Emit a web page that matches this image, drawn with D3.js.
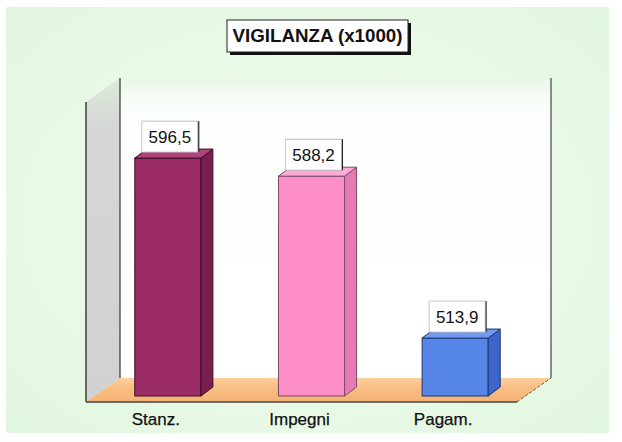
<!DOCTYPE html>
<html lang="it">
<head>
<meta charset="utf-8">
<title>Vigilanza</title>
<script src="https://d3js.org/d3.v7.min.js"></script>
<style>
  html, body { margin: 0; padding: 0; background: #fff; }
  svg { display: block; font-family: "Liberation Sans", Arial, sans-serif; }
</style>
</head>
<body>
<div id="chart"></div>
<script>
// data
const categories = ["Stanz.", "Impegni", "Pagam."];
const values = [596.5, 588.2, 513.9];
const valueLabels = ["596,5", "588,2", "513,9"];
const titleText = "VIGILANZA (x1000)";

const barColors = [
  { front: "#9c2c66", top: "#b2447d", side: "#7a1e4e", line: "#3d0c26" },
  { front: "#ff8fc9", top: "#ffaad6", side: "#e47cb3", line: "#7a4a62" },
  { front: "#5686e8", top: "#729bf0", side: "#3c66c9", line: "#1d3470" }
];

const W = 622, H = 442;
// 3d offsets
const depth = { dx: 34, dy: 24 };   // wall / floor depth
const barDepth = { dx: 12, dy: 9 };
const floorFront = 402, floorBack = floorFront - depth.dy;
const wallLeft = 86, wallRight = 517;
const wallTop = 78;
const barBase = 396;

const svg = d3.select("#chart").append("svg")
  .attr("width", W).attr("height", H);

const defs = svg.append("defs");
const bgGrad = defs.append("radialGradient").attr("id", "bg")
  .attr("cx", "50%").attr("cy", "50%").attr("r", "70%");
bgGrad.append("stop").attr("offset", "0%").attr("stop-color", "#f3fcf2");
bgGrad.append("stop").attr("offset", "100%").attr("stop-color", "#e2f7df");

const wallGrad = defs.append("linearGradient").attr("id", "wall")
  .attr("x1", 0).attr("y1", 0).attr("x2", 0).attr("y2", 1);
wallGrad.append("stop").attr("offset", "0%").attr("stop-color", "#e9f8e7");
wallGrad.append("stop").attr("offset", "10%").attr("stop-color", "#fcfefc");
wallGrad.append("stop").attr("offset", "100%").attr("stop-color", "#ffffff");

const sideGrad = defs.append("linearGradient").attr("id", "side")
  .attr("x1", 0).attr("y1", 0).attr("x2", 0).attr("y2", 1);
sideGrad.append("stop").attr("offset", "0%").attr("stop-color", "#dcecd9");
sideGrad.append("stop").attr("offset", "15%").attr("stop-color", "#d5d7d5");
sideGrad.append("stop").attr("offset", "100%").attr("stop-color", "#d1d1d1");

const floorGrad = defs.append("linearGradient").attr("id", "floor")
  .attr("x1", 0).attr("y1", 0).attr("x2", 0).attr("y2", 1);
floorGrad.append("stop").attr("offset", "0%").attr("stop-color", "#fbcf9e");
floorGrad.append("stop").attr("offset", "45%").attr("stop-color", "#f8bd82");
floorGrad.append("stop").attr("offset", "100%").attr("stop-color", "#f5b274");

// background
svg.append("rect").attr("x", 6).attr("y", 7).attr("width", 603).attr("height", 426)
  .attr("fill", "url(#bg)");

// scales
const x = d3.scaleBand().domain(categories)
  .range([96, 527]).paddingInner(0.54).paddingOuter(0.27);
const y = d3.scaleLinear().domain([487.3, 625]).range([barBase, 96]);

const poly = pts => "M" + pts.map(p => p.join(",")).join("L") + "Z";

// back wall
svg.append("rect")
  .attr("x", wallLeft + depth.dx).attr("y", wallTop)
  .attr("width", wallRight - wallLeft).attr("height", floorBack - wallTop)
  .attr("fill", "url(#wall)");
// left side wall
svg.append("path")
  .attr("d", poly([[wallLeft, wallTop + depth.dy], [wallLeft + depth.dx, wallTop],
    [wallLeft + depth.dx, floorBack], [wallLeft, floorFront]]))
  .attr("fill", "url(#side)");
// floor
svg.append("path")
  .attr("d", poly([[wallLeft, floorFront], [wallLeft + depth.dx, floorBack],
    [wallRight + depth.dx, floorBack], [wallRight, floorFront]]))
  .attr("fill", "url(#floor)");

// wall edges
svg.append("line").attr("x1", wallLeft + depth.dx).attr("x2", wallLeft + depth.dx)
  .attr("y1", wallTop).attr("y2", floorBack).attr("stroke", "#333").attr("stroke-width", 1.2);
svg.append("line").attr("x1", wallRight + depth.dx).attr("x2", wallRight + depth.dx)
  .attr("y1", wallTop).attr("y2", floorBack).attr("stroke", "#444").attr("stroke-width", 1.2);
svg.append("line").attr("x1", wallLeft).attr("x2", wallLeft)
  .attr("y1", wallTop + depth.dy).attr("y2", floorFront).attr("stroke", "#333").attr("stroke-width", 1.4);
svg.append("line").attr("x1", wallLeft).attr("x2", wallRight)
  .attr("y1", floorFront).attr("y2", floorFront).attr("stroke", "#444").attr("stroke-width", 1.4);
svg.append("line").attr("x1", wallRight).attr("x2", wallRight + depth.dx)
  .attr("y1", floorFront).attr("y2", floorBack).attr("stroke", "#555")
  .attr("stroke-width", 1).attr("stroke-dasharray", "3,2");

// bars
const bars = svg.selectAll("g.bar").data(values).join("g").attr("class", "bar");
bars.each(function(v, i) {
  const g = d3.select(this);
  const x0 = x(categories[i]), x1 = x0 + x.bandwidth();
  const yt = y(v), yb = y.range()[0];
  const c = barColors[i];
  g.append("rect").attr("x", x0).attr("y", yt).attr("width", x1 - x0).attr("height", yb - yt)
    .attr("fill", c.front).attr("stroke", c.line).attr("stroke-width", 1);
  g.append("path")
    .attr("d", poly([[x1, yt], [x1 + barDepth.dx, yt - barDepth.dy],
      [x1 + barDepth.dx, yb - barDepth.dy], [x1, yb]]))
    .attr("fill", c.side).attr("stroke", c.line).attr("stroke-width", 1).attr("stroke-linejoin", "round");
  g.append("path")
    .attr("d", poly([[x0, yt], [x0 + barDepth.dx, yt - barDepth.dy],
      [x1 + barDepth.dx, yt - barDepth.dy], [x1, yt]]))
    .attr("fill", c.top).attr("stroke", c.line).attr("stroke-width", 1).attr("stroke-linejoin", "round");
});

// value labels
const boxW = 56, boxH = 31;
const labels = svg.selectAll("g.vlab").data(values).join("g").attr("class", "vlab")
  .attr("transform", (v, i) => {
    const cx = x(categories[i]) + x.bandwidth() / 2 + 2;
    return "translate(" + (cx - boxW / 2) + "," + (y(v) - 6 - boxH) + ")";
  });
labels.append("rect").attr("x", 1.5).attr("y", 0).attr("width", boxW).attr("height", boxH)
  .attr("fill", "#222");
labels.append("rect").attr("width", boxW).attr("height", boxH)
  .attr("fill", "#fff").attr("stroke", "#bbb").attr("stroke-width", 0.8);
labels.append("text").attr("x", boxW / 2).attr("y", 22)
  .attr("text-anchor", "middle").attr("font-size", 17).attr("fill", "#111")
  .text((v, i) => valueLabels[i]);

// category labels
svg.selectAll("text.cat").data(categories).join("text").attr("class", "cat")
  .attr("x", d => x(d) + x.bandwidth() / 2 - 12)
  .attr("y", 425)
  .attr("text-anchor", "middle").attr("font-size", 17).attr("fill", "#111")
  .attr("stroke", "#111").attr("stroke-width", 0.25)
  .text(d => d);

// title
const tb = { x: 227, y: 20, w: 181, h: 32 };
svg.append("rect").attr("x", tb.x + 3).attr("y", tb.y + 3).attr("width", tb.w).attr("height", tb.h)
  .attr("fill", "#111");
svg.append("rect").attr("x", tb.x).attr("y", tb.y).attr("width", tb.w).attr("height", tb.h)
  .attr("fill", "#fff").attr("stroke", "#222").attr("stroke-width", 1);
svg.append("text").attr("x", tb.x + tb.w / 2).attr("y", tb.y + 22)
  .attr("text-anchor", "middle").attr("font-size", 18).attr("font-weight", "bold")
  .attr("textLength", 170).attr("lengthAdjust", "spacingAndGlyphs")
  .attr("fill", "#111").text(titleText);
</script>
</body>
</html>
